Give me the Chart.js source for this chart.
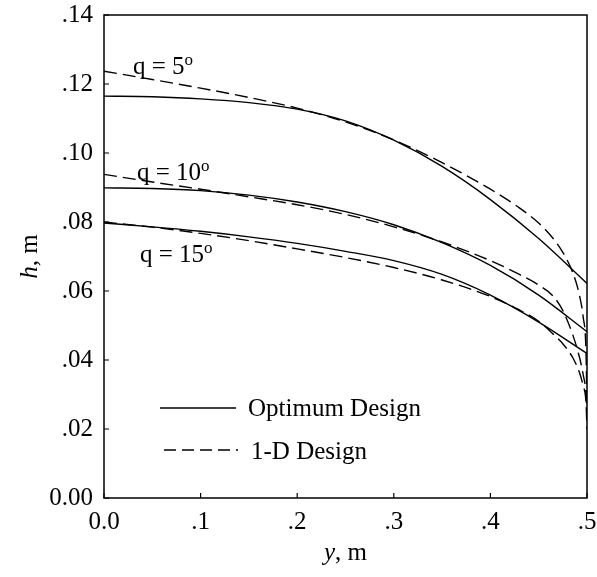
<!DOCTYPE html>
<html>
<head>
<meta charset="utf-8">
<script src="https://cdn.jsdelivr.net/npm/chart.js@4.4.1/dist/chart.umd.min.js"></script>
<style>
  html, body { margin: 0; padding: 0; background: #fff; }
  canvas { display: block; }
</style>
</head>
<body>
<canvas id="chart" width="597" height="577"></canvas>
<script>
// x positions (y, m) for the solid and dashed curves
const xSolid = [0, 0.05, 0.1, 0.15, 0.2, 0.25, 0.3, 0.35, 0.4, 0.45, 0.5];
const xDashed = [0, 0.05, 0.1, 0.15, 0.2, 0.25, 0.3, 0.35, 0.4, 0.43, 0.45, 0.465, 0.475, 0.485, 0.492, 0.496, 0.499, 0.5];

// Optimum design, h (m)
const opt5 = [0.1165, 0.1163, 0.1157, 0.1146, 0.1127, 0.1093, 0.1037, 0.0961, 0.0865, 0.0752, 0.0622];
const opt10 = [0.0899, 0.0897, 0.0891, 0.0878, 0.0858, 0.0830, 0.0792, 0.0740, 0.0674, 0.0588, 0.0482];
const opt15 = [0.0797, 0.0786, 0.0773, 0.0757, 0.0738, 0.0715, 0.0688, 0.0648, 0.0588, 0.0510, 0.0419];

// 1-D design, h (m)
const oneD5 = [0.1237, 0.1213, 0.1188, 0.1161, 0.1130, 0.1090, 0.1038, 0.0972, 0.0895, 0.0841, 0.0797, 0.0752, 0.0712, 0.0655, 0.0590, 0.0525, 0.0420, 0.0260];
const oneD10 = [0.0938, 0.0916, 0.0895, 0.0873, 0.0850, 0.0822, 0.0786, 0.0742, 0.0688, 0.0648, 0.0617, 0.0585, 0.0543, 0.0475, 0.0410, 0.0358, 0.0300, 0.0236];
const oneD15 = [0.0800, 0.0785, 0.0767, 0.0746, 0.0722, 0.0697, 0.0668, 0.0632, 0.0584, 0.0545, 0.0512, 0.0475, 0.0447, 0.0408, 0.0365, 0.0325, 0.0275, 0.0200];

const curveLabels = [
  { main: "q = 5", sup: "o", x: 133, y: 74 },
  { main: "q = 10", sup: "o", x: 137, y: 180 },
  { main: "q = 15", sup: "o", x: 140, y: 262 }
];

const SERIF = "'Liberation Serif', 'Times New Roman', serif";
const DASH = [13, 6];

function pts(xs, ys) {
  return xs.map((x, i) => ({ x: x, y: ys[i] }));
}

function line(label, xs, ys, dashed) {
  return {
    label: label,
    data: pts(xs, ys),
    borderColor: "#000",
    borderWidth: 1.4,
    borderDash: dashed ? DASH : [],
    pointRadius: 0,
    fill: false,
    cubicInterpolationMode: "monotone"
  };
}

// frame, inward ticks, axis titles, curve labels, legend
const decorations = {
  id: "decorations",
  afterDatasetsDraw(chart) {
    const ctx = chart.ctx;
    const a = chart.chartArea;
    const xs = chart.scales.x;
    const ys = chart.scales.y;
    ctx.save();
    ctx.strokeStyle = "#000";
    ctx.fillStyle = "#000";

    ctx.lineWidth = 1.5;
    ctx.strokeRect(a.left, a.top, a.right - a.left, a.bottom - a.top);

    ctx.lineWidth = 1.2;
    ctx.beginPath();
    xs.ticks.forEach(t => {
      const px = xs.getPixelForValue(t.value);
      ctx.moveTo(px, a.bottom);
      ctx.lineTo(px, a.bottom - 5);
    });
    ys.ticks.forEach(t => {
      const py = ys.getPixelForValue(t.value);
      ctx.moveTo(a.left, py);
      ctx.lineTo(a.left + 5, py);
    });
    ctx.stroke();

    // axis titles
    ctx.textBaseline = "middle";
    ctx.textAlign = "left";
    ctx.font = "italic 25px " + SERIF;
    const yW = ctx.measureText("y").width;
    ctx.font = "25px " + SERIF;
    const restW = ctx.measureText(", m").width;
    let tx = (a.left + a.right) / 2 - (yW + restW) / 2;
    ctx.font = "italic 25px " + SERIF;
    ctx.fillText("y", tx, 553);
    ctx.font = "25px " + SERIF;
    ctx.fillText(", m", tx + yW, 553);

    ctx.save();
    ctx.translate(30, (a.top + a.bottom) / 2);
    ctx.rotate(-Math.PI / 2);
    ctx.font = "italic 25px " + SERIF;
    const hW = ctx.measureText("h").width;
    ctx.font = "25px " + SERIF;
    const hRest = ctx.measureText(", m").width;
    const hx = -(hW + hRest) / 2;
    ctx.font = "italic 25px " + SERIF;
    ctx.fillText("h", hx, 0);
    ctx.font = "25px " + SERIF;
    ctx.fillText(", m", hx + hW, 0);
    ctx.restore();

    // curve labels
    ctx.textBaseline = "alphabetic";
    curveLabels.forEach(l => {
      ctx.font = "25px " + SERIF;
      ctx.fillText(l.main, l.x, l.y);
      const w = ctx.measureText(l.main).width;
      ctx.font = "17px " + SERIF;
      ctx.fillText(l.sup, l.x + w, l.y - 9);
    });

    // legend
    ctx.lineWidth = 1.4;
    ctx.beginPath();
    ctx.moveTo(160, 408);
    ctx.lineTo(236, 408);
    ctx.stroke();
    ctx.setLineDash([12, 6]);
    ctx.beginPath();
    ctx.moveTo(164, 450);
    ctx.lineTo(238, 450);
    ctx.stroke();
    ctx.setLineDash([]);
    ctx.font = "25px " + SERIF;
    ctx.fillText("Optimum Design", 248, 416);
    ctx.fillText("1-D Design", 251, 459);

    ctx.restore();
  }
};

new Chart(document.getElementById("chart"), {
  type: "line",
  data: {
    datasets: [
      line("Optimum Design q=5", xSolid, opt5, false),
      line("Optimum Design q=10", xSolid, opt10, false),
      line("Optimum Design q=15", xSolid, opt15, false),
      line("1-D Design q=5", xDashed, oneD5, true),
      line("1-D Design q=10", xDashed, oneD10, true),
      line("1-D Design q=15", xDashed, oneD15, true)
    ]
  },
  options: {
    responsive: false,
    animation: false,
    layout: { padding: { left: 0, right: 10, top: 15, bottom: 0 } },
    plugins: {
      legend: { display: false },
      tooltip: { enabled: false }
    },
    scales: {
      x: {
        type: "linear",
        min: 0,
        max: 0.5,
        grid: { display: false, drawTicks: false },
        border: { display: false },
        ticks: {
          stepSize: 0.1,
          padding: 9,
          color: "#000",
          font: { family: SERIF, size: 25 },
          maxRotation: 0,
          callback: v => v === 0 ? "0.0" : v.toFixed(1).replace(/^0/, "")
        },
        afterFit: s => {
          s.height = 79;
          s.paddingLeft = 0;
          s.paddingRight = 0;
        }
      },
      y: {
        type: "linear",
        min: 0,
        max: 0.14,
        grid: { display: false, drawTicks: false },
        border: { display: false },
        ticks: {
          stepSize: 0.02,
          padding: 11,
          color: "#000",
          font: { family: SERIF, size: 25 },
          callback: v => v === 0 ? "0.00" : v.toFixed(2).replace(/^0/, "")
        },
        afterFit: s => {
          s.width = 104;
          s.paddingTop = 0;
          s.paddingBottom = 0;
        }
      }
    }
  },
  plugins: [decorations]
});
</script>
</body>
</html>
